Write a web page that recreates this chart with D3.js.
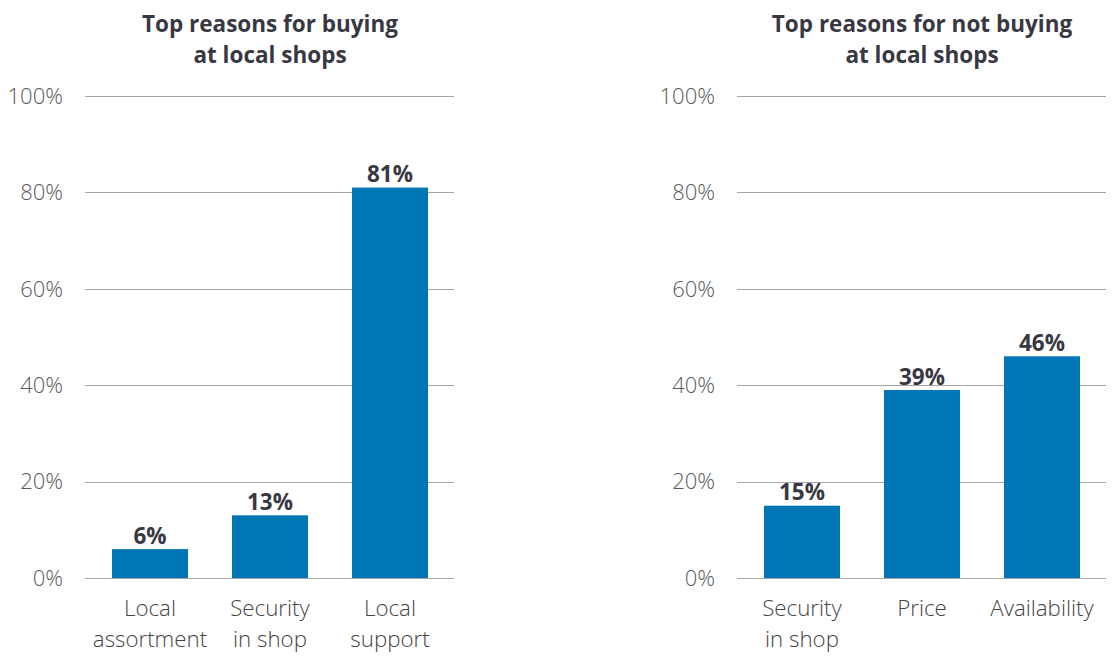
<!DOCTYPE html>
<html>
<head>
<meta charset="utf-8">
<script src="https://cdn.jsdelivr.net/npm/d3@7"></script>
<style>
  html, body { margin: 0; padding: 0; background: #fff; }
  svg { display: block; font-family: "Open Sans", sans-serif; }
</style>
</head>
<body>
<svg id="chart" width="1112" height="663"></svg>
<script>
// Survey results: reasons for (not) buying at local shops
const buyTitle = ["Top reasons for buying", "at local shops"];
const buyCategories = [["Local", "assortment"], ["Security", "in shop"], ["Local", "support"]];
const buyValues = [6, 13, 81];

const notBuyTitle = ["Top reasons for not buying", "at local shops"];
const notBuyCategories = [["Security", "in shop"], ["Price"], ["Availability"]];
const notBuyValues = [15, 39, 46];

const yTicks = [0, 20, 40, 60, 80, 100];

const svg = d3.select("#chart");
const barColor = "#0076b5";

function drawPanel(opts) {
  const g = svg.append("g");
  const x = d3.scaleBand()
    .domain(opts.categories.map((d, i) => i))
    .range([opts.x0, opts.x1])
    .paddingInner(44 / 120)
    .paddingOuter(22 / 120);
  const y = d3.scaleLinear().domain([0, 100]).range([578, 96]);

  // gridlines
  g.selectAll("line.grid").data(yTicks).join("line")
    .attr("class", "grid")
    .attr("x1", opts.gx0).attr("x2", opts.gx1)
    .attr("y1", d => Math.round(y(d)) + 0.5).attr("y2", d => Math.round(y(d)) + 0.5)
    .attr("stroke", "#a6a6a6").attr("stroke-width", 1);

  // y tick labels
  g.selectAll("text.ytick").data(yTicks).join("text")
    .attr("class", "ytick")
    .attr("x", opts.labelX).attr("y", d => y(d))
    .attr("dy", "0.35em")
    .attr("text-anchor", "end")
    .attr("font-size", 22).attr("font-weight", 300)
    .attr("fill", "#5a5a5a")
    .text(d => d + "%");

  // bars
  g.selectAll("rect.bar").data(opts.values).join("rect")
    .attr("class", "bar")
    .attr("x", (d, i) => x(i))
    .attr("width", x.bandwidth())
    .attr("y", d => y(d))
    .attr("height", d => y(0) - y(d))
    .attr("fill", barColor);

  // value labels
  g.selectAll("text.val").data(opts.values).join("text")
    .attr("class", "val")
    .attr("x", (d, i) => x(i) + x.bandwidth() / 2)
    .attr("y", d => y(d) - 5.5)
    .attr("text-anchor", "middle")
    .attr("font-size", 22.5).attr("font-weight", 700)
    .attr("fill", "#383842")
    .text(d => d + "%");

  // category labels
  const cat = g.selectAll("text.cat").data(opts.categories).join("text")
    .attr("class", "cat")
    .attr("text-anchor", "middle")
    .attr("font-size", 22.3).attr("font-weight", 300)
    .attr("fill", "#444");
  cat.each(function(lines, i) {
    d3.select(this).selectAll("tspan").data(lines).join("tspan")
      .attr("x", x(i) + x.bandwidth() / 2)
      .attr("y", (d, j) => 616 + j * 31)
      .text(d => d);
  });

  // title
  const cx = (opts.x0 + opts.x1) / 2;
  svg.append("text")
    .attr("text-anchor", "middle")
    .attr("font-size", 22.5).attr("font-weight", 700)
    .attr("fill", "#383842")
    .selectAll("tspan").data(opts.title).join("tspan")
    .attr("x", cx)
    .attr("y", (d, j) => 32 + j * 31)
    .text(d => d);
}

drawPanel({ title: buyTitle, categories: buyCategories, values: buyValues,
  x0: 90, x1: 450, gx0: 85, gx1: 454, labelX: 63 });
drawPanel({ title: notBuyTitle, categories: notBuyCategories, values: notBuyValues,
  x0: 742, x1: 1102, gx0: 737, gx1: 1106, labelX: 715 });
</script>
</body>
</html>
